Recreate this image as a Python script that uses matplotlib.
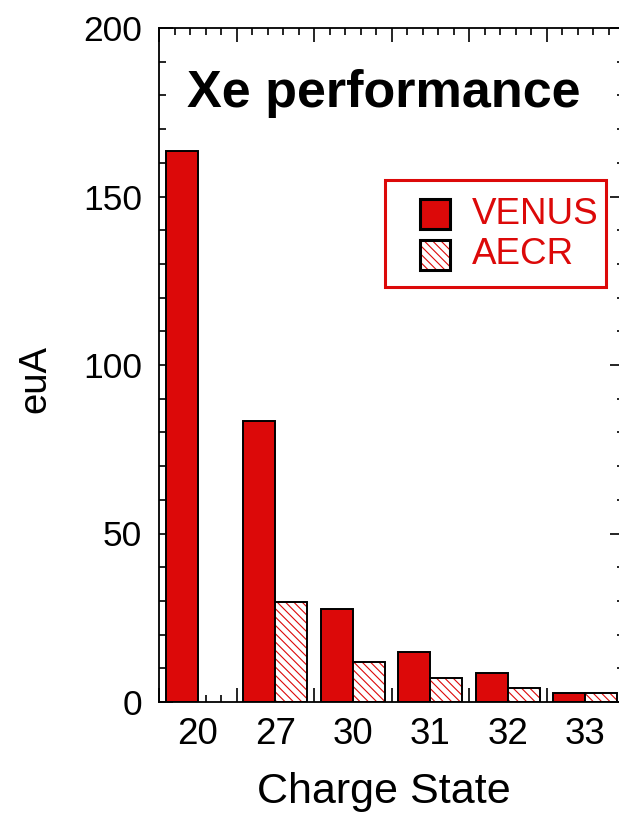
import numpy as np
import matplotlib
matplotlib.use("Agg")
import matplotlib.pyplot as plt
from matplotlib.patches import Rectangle
from matplotlib.ticker import MultipleLocator

plt.rcParams['font.family'] = ['Liberation Sans', 'DejaVu Sans']
plt.rcParams['hatch.linewidth'] = 0.8

categories = ['20', '27', '30', '31', '32', '33']
venus = [163.5, 83.5, 27.5, 14.8, 8.6, 2.7]
aecr = [np.nan, 29.7, 11.9, 7.1, 4.2, 2.7]
series_names = ['VENUS', 'AECR']
title = 'Xe performance'

RED = '#dc0909'
W, H = 619, 818
fig = plt.figure(figsize=(W / 100, H / 100), dpi=100)
L, R, T, B = 159, 624, 28, 702
ax = fig.add_axes([L / W, 1 - B / H, (R - L) / W, (B - T) / H])

x = np.arange(len(categories))
bw = 0.41
ax.bar(x + 0.09, venus, width=bw, align='edge', color=RED,
       edgecolor='black', linewidth=1.4, zorder=2)
a = np.array(aecr, dtype=float)
m = np.isfinite(a)
ax.bar(x[m] + 0.5, a[m], width=bw, align='edge', facecolor='white',
       edgecolor=RED, linewidth=0, hatch='\\\\\\\\', zorder=2)
ax.bar(x[m] + 0.5, a[m], width=bw, align='edge', fill=False,
       edgecolor='black', linewidth=1.4, zorder=2.1)

ax.set_xlim(0, len(categories))
ax.set_ylim(0, 200)
ax.xaxis.set_major_locator(MultipleLocator(1))
ax.xaxis.set_minor_locator(MultipleLocator(0.2))
ax.yaxis.set_major_locator(MultipleLocator(50))
ax.yaxis.set_minor_locator(MultipleLocator(10))
ax.tick_params(which='both', direction='in', top=True, right=True,
               width=1.2, labelsize=25.5, colors='black')
ax.tick_params(which='major', length=10)
ax.tick_params(which='minor', length=5)
ax.tick_params(axis='y', pad=12)
ax.set_xticklabels([])
for s in ax.spines.values():
    s.set_linewidth(1.3)

sec = ax.secondary_xaxis('bottom')
sec.set_xticks(x + 0.5, categories)
sec.tick_params(length=0, labelsize=26.5, pad=11)
sec.spines['bottom'].set_visible(False)

ax.set_xlabel('Charge State', fontsize=31)
ax.xaxis.set_label_coords((384 - L) / (R - L), (B - 803) / (B - T))
ax.xaxis.label.set_va('baseline')
ax.set_ylabel('euA', fontsize=27.5)
ax.yaxis.set_label_coords((35 - L) / (R - L), (B - 379) / (B - T))
ax.yaxis.label.set_va('center')

fig.text(187 / W, 1 - 107 / H, title, fontsize=37.5, fontweight='bold',
         ha='left', va='baseline')

# legend drawn manually in figure pixel space
def px(xp, yp):
    return xp / W, 1 - yp / H

fig.add_artist(Rectangle(px(385, 287), 221 / W, 107 / H, transform=fig.transFigure,
                         fill=False, edgecolor=RED, linewidth=2.2))
fig.add_artist(Rectangle(px(420, 229), 30 / W, 30 / H, transform=fig.transFigure,
                         facecolor=RED, edgecolor='black', linewidth=2.2))
fig.add_artist(Rectangle(px(420, 270), 30 / W, 30 / H, transform=fig.transFigure,
                         facecolor='white', edgecolor=RED, linewidth=0, hatch='\\\\\\\\'))
fig.add_artist(Rectangle(px(420, 270), 30 / W, 30 / H, transform=fig.transFigure,
                         fill=False, edgecolor='black', linewidth=2.2))
fig.text(*px(472, 214), series_names[0], color=RED, fontsize=26.5, ha='left', va='center')
fig.text(*px(472, 255), series_names[1], color=RED, fontsize=26.5, ha='left', va='center')

fig.savefig('out.png', dpi=100)
